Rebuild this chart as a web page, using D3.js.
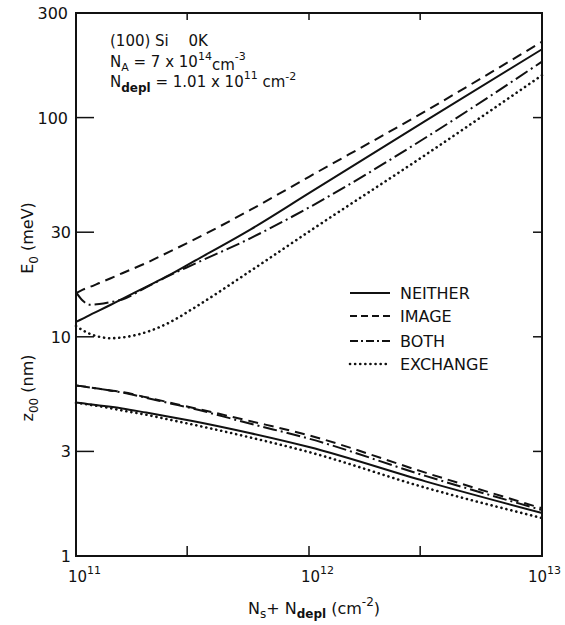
<!DOCTYPE html>
<html>
<head>
<meta charset="utf-8">
<script src="https://cdn.jsdelivr.net/npm/d3@7"></script>
<style>
  body { margin: 0; background: #fff; }
  svg text { font-family: "DejaVu Sans", sans-serif; fill: #111; }
</style>
</head>
<body>
<svg id="chart" width="565" height="625"></svg>
<script>
// N_s + N_depl (cm^-2), shared by all curves
const nsum = [1.0e11, 1.07e11, 1.15e11, 1.26e11, 1.41e11, 1.58e11, 2.0e11, 2.51e11, 3.16e11, 5.62e11, 1.0e12, 3.16e12, 1.0e13]

// ground subband energy E0 (meV)
const e0Neither  = [11.7, 12.1, 12.6, 13.2, 14.0, 14.9, 16.9, 19.1, 21.9, 30.9, 45.2, 96.6, 205]
const e0Image    = [15.8, 16.4, 16.9, 17.6, 18.5, 19.5, 21.7, 24.4, 27.5, 38.0, 53.7, 107, 222]
const e0Both     = [16.0, 14.6, 14.0, 14.1, 14.4, 14.8, 16.8, 19.0, 21.3, 28.2, 38.9, 80.9, 180]
const e0Exchange = [11.2, 10.7, 10.3, 10.0, 9.85, 9.93, 10.5, 11.6, 13.4, 20.0, 30.2, 67.6, 156]

// average extent z00 (nm)
const zNeither  = [5.01, 4.97, 4.92, 4.86, 4.79, 4.71, 4.51, 4.32, 4.13, 3.63, 3.14, 2.19, 1.57]
const zImage    = [6.0, 5.94, 5.87, 5.79, 5.69, 5.60, 5.30, 5.02, 4.75, 4.12, 3.55, 2.40, 1.65]
const zBoth     = [6.0, 5.94, 5.87, 5.79, 5.68, 5.57, 5.27, 4.98, 4.71, 4.01, 3.43, 2.32, 1.62]
const zExchange = [4.99, 4.95, 4.89, 4.82, 4.72, 4.61, 4.41, 4.19, 3.98, 3.47, 2.98, 2.05, 1.49]

const legendNames = ['NEITHER', 'IMAGE', 'BOTH', 'EXCHANGE']
const yTickValues = [300, 100, 30, 10, 3, 1]
const xMinorTicks = [3e11, 1e12, 3e12]
const xTickExp = [11, 12, 13]

const svg = d3.select('#chart')
const pLeft = 76, pRight = 542, pTop = 13, pBottom = 556

const x = d3.scaleLog().domain([1e11, 1e13]).range([pLeft, pRight])
const y = d3.scaleLog().domain([1, 300]).range([pBottom, pTop])

//line styles per series
const styles = {
    NEITHER:  { dash: null, cap: 'butt', width: 2 },
    IMAGE:    { dash: '10,6', cap: 'butt', width: 2 },
    BOTH:     { dash: '14,4,2,4', cap: 'butt', width: 2 },
    EXCHANGE: { dash: '0.1,5', cap: 'round', width: 2.6 }
}

const series = [
    { name: 'NEITHER', vals: e0Neither }, { name: 'IMAGE', vals: e0Image },
    { name: 'BOTH', vals: e0Both }, { name: 'EXCHANGE', vals: e0Exchange },
    { name: 'NEITHER', vals: zNeither }, { name: 'IMAGE', vals: zImage },
    { name: 'BOTH', vals: zBoth }, { name: 'EXCHANGE', vals: zExchange }
]

const line = d3.line()
    .x(d => x(d[0]))
    .y(d => y(d[1]))
    .curve(d3.curveMonotoneX)

svg.append('g').selectAll('path')
    .data(series)
    .join('path')
    .attr('d', d => line(nsum.map((n, i) => [n, d.vals[i]])))
    .attr('fill', 'none')
    .attr('stroke', '#111')
    .attr('stroke-width', d => styles[d.name].width)
    .attr('stroke-dasharray', d => styles[d.name].dash)
    .attr('stroke-linecap', d => styles[d.name].cap)

// frame
svg.append('rect')
    .attr('x', pLeft).attr('y', pTop)
    .attr('width', pRight - pLeft).attr('height', pBottom - pTop)
    .attr('fill', 'none').attr('stroke', '#111').attr('stroke-width', 2)

// y ticks: long on the left, short on the right
const inner = yTickValues.filter(v => v > 1 && v < 300)
svg.append('g').selectAll('line')
    .data(inner)
    .join('line')
    .attr('x1', pLeft).attr('x2', pLeft + 18)
    .attr('y1', d => y(d)).attr('y2', d => y(d))
    .attr('stroke', '#111').attr('stroke-width', 1.5)
svg.append('g').selectAll('line')
    .data(inner)
    .join('line')
    .attr('x1', pRight).attr('x2', pRight - 9)
    .attr('y1', d => y(d)).attr('y2', d => y(d))
    .attr('stroke', '#111').attr('stroke-width', 1.5)

svg.append('g').selectAll('text')
    .data(yTickValues)
    .join('text')
    .attr('x', d => d >= 100 ? 68 : 71)
    .attr('y', d => y(d) + 6)
    .attr('text-anchor', 'end')
    .attr('font-size', 16)
    .text(d => d)

// x ticks top and bottom
svg.append('g').selectAll('line')
    .data(xMinorTicks)
    .join('line')
    .attr('x1', d => x(d)).attr('x2', d => x(d))
    .attr('y1', pBottom).attr('y2', pBottom - 10)
    .attr('stroke', '#111').attr('stroke-width', 1.5)
svg.append('g').selectAll('line')
    .data(xMinorTicks)
    .join('line')
    .attr('x1', d => x(d)).attr('x2', d => x(d))
    .attr('y1', pTop).attr('y2', pTop + 7)
    .attr('stroke', '#111').attr('stroke-width', 1.5)

// decade labels, the last one kept inside the window
const xl = svg.append('g').selectAll('text')
    .data(xTickExp)
    .join('text')
    .attr('x', d => Math.min(x(Math.pow(10, d)) - 8, 528))
    .attr('y', 582)
    .attr('font-size', 15)
xl.append('tspan').text('10')
xl.append('tspan').attr('dy', -8).attr('font-size', 11).text(d => d)

// annotation block
const note = svg.append('g').attr('font-size', 15).style('font-family', '"Liberation Sans", sans-serif')
note.append('text').attr('x', 110).attr('y', 46).text('(100) Si\u2002\u2002 0K')
let t = note.append('text').attr('x', 110).attr('y', 67)
t.append('tspan').text('N')
t.append('tspan').attr('dy', 4).attr('font-size', 11).text('A')
t.append('tspan').attr('dy', -4).text(' = 7 x  10')
t.append('tspan').attr('dy', -7).attr('font-size', 11).text('14')
t.append('tspan').attr('dy', 10).text('cm')
t.append('tspan').attr('dy', -10).attr('font-size', 11).text('-3')
t = note.append('text').attr('x', 110).attr('y', 87)
t.append('tspan').text('N')
t.append('tspan').attr('dy', 5).attr('font-size', 12).attr('font-weight', 'bold').text('depl')
t.append('tspan').attr('dy', -5).text(' = 1.01 x  10')
t.append('tspan').attr('dy', -8).attr('font-size', 11).text('11')
t.append('tspan').attr('dy', 8).text(' cm')
t.append('tspan').attr('dy', -7).attr('font-size', 11).text('-2')

// legend
const leg = svg.append('g').selectAll('g')
    .data(legendNames)
    .join('g')
    .attr('transform', (d, i) => `translate(350,${[293, 316, 341, 364][i]})`)
leg.append('line')
    .attr('x1', 0).attr('x2', 40)
    .attr('stroke', '#111')
    .attr('stroke-width', d => styles[d].width)
    .attr('stroke-dasharray', d => d === 'IMAGE' ? '7,4' : d === 'BOTH' ? '8,3,2,3' : styles[d].dash)
    .attr('stroke-linecap', d => styles[d].cap)
leg.append('text')
    .attr('x', 50).attr('y', 6)
    .attr('font-size', 16)
    .text(d => d)

// axis titles
t = svg.append('text')
    .attr('transform', 'translate(33,238) rotate(-90)')
    .attr('text-anchor', 'middle').attr('font-size', 16)
t.append('tspan').text('E')
t.append('tspan').attr('dy', 5).attr('font-size', 12).text('0')
t.append('tspan').attr('dy', -5).text(' (meV)')

t = svg.append('text')
    .attr('transform', 'translate(33,388) rotate(-90)')
    .attr('text-anchor', 'middle').attr('font-size', 16)
t.append('tspan').text('z')
t.append('tspan').attr('dy', 5).attr('font-size', 12).text('00')
t.append('tspan').attr('dy', -5).text(' (nm)')

t = svg.append('text').attr('x', 248).attr('y', 614).attr('font-size', 16)
t.append('tspan').text('N')
t.append('tspan').attr('dy', 4).attr('font-size', 12).text('s')
t.append('tspan').attr('dy', -4).text('+ N')
t.append('tspan').attr('dy', 4).attr('font-size', 12).attr('font-weight', 'bold').text('depl')
t.append('tspan').attr('dy', -4).text(' (cm')
t.append('tspan').attr('dy', -8).attr('font-size', 12).text('-2')
t.append('tspan').attr('dy', 8).text(')')
</script>
</body>
</html>
